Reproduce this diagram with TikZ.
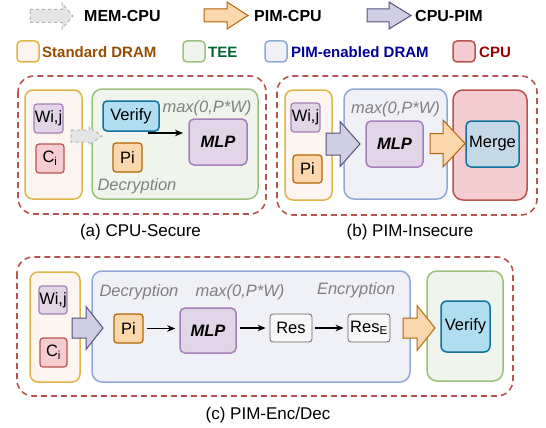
\documentclass[tikz,border=0pt]{standalone}
\usepackage{fontspec}
\setmainfont{Liberation Sans}
\usetikzlibrary{arrows.meta}

\definecolor{dramline}{HTML}{E0B446}
\definecolor{dramfill}{HTML}{FDF5EF}
\definecolor{teeline}{HTML}{9AC27C}
\definecolor{teefill}{HTML}{EFF5EC}
\definecolor{pimline}{HTML}{8EA9D3}
\definecolor{pimfill}{HTML}{EFF1F6}
\definecolor{cpuline}{HTML}{B85450}
\definecolor{cpufill}{HTML}{F5CDD0}
\definecolor{purpline}{HTML}{A680B8}
\definecolor{purpfill}{HTML}{E1D5E7}
\definecolor{orgline}{HTML}{B46504}
\definecolor{orgfill}{HTML}{FAD7AC}
\definecolor{bluline}{HTML}{10739E}
\definecolor{blufill}{HTML}{B1DDF0}
\definecolor{mrgfill}{HTML}{C4D8E6}
\definecolor{resline}{HTML}{666666}
\definecolor{resfill}{HTML}{F7F7F7}
\definecolor{cpline}{HTML}{56517E}
\definecolor{cpfill}{HTML}{D0CEE2}
\definecolor{notegray}{HTML}{808080}
\definecolor{dramtext}{HTML}{994C00}
\definecolor{teetext}{HTML}{006633}
\definecolor{pimtext}{HTML}{000099}
\definecolor{cputext}{HTML}{990000}

% block arrow: style, x start, x head, x tip, y centre, body half, head half
\newcommand{\blkarrow}[7]{%
  \draw[#1] (#2,#5-#6) -- (#3,#5-#6) -- (#3,#5-#7) -- (#4,#5)
    -- (#3,#5+#7) -- (#3,#5+#6) -- (#2,#5+#6) -- cycle;}

\begin{document}
\begin{tikzpicture}[x=1pt, y=-1pt,
  every node/.style={font=\fontsize{16.5}{19}\selectfont, inner sep=0pt},
  dram/.style={draw=dramline, fill=dramfill, rounded corners=8pt, line width=1.5pt},
  tee/.style={draw=teeline, fill=teefill, rounded corners=10pt, line width=1.5pt},
  pim/.style={draw=pimline, fill=pimfill, rounded corners=10pt, line width=1.5pt},
  cpu/.style={draw=cpuline, fill=cpufill, rounded corners=10pt, line width=1.5pt},
  wbox/.style={draw=purpline, fill=purpfill, rounded corners=3pt, line width=1.2pt},
  cbox/.style={draw=cpuline, fill=cpufill, rounded corners=3pt, line width=1.2pt},
  pbox/.style={draw=orgline, fill=orgfill, rounded corners=3pt, line width=1.2pt},
  vbox/.style={draw=bluline, fill=blufill, rounded corners=4pt, line width=1.5pt},
  rbox/.style={draw=resline, fill=resfill, rounded corners=3pt, line width=0.8pt},
  group/.style={draw=cpuline, dash pattern=on 6pt off 4pt, rounded corners=16pt, line width=1.6pt},
  note/.style={text=notegray, font=\fontsize{16.5}{19}\selectfont\itshape},
  capt/.style={font=\fontsize{17}{20}\selectfont},
  legend/.style={anchor=west, font=\fontsize{15}{18}\selectfont\bfseries},
  flow/.style={-{Stealth[length=8pt,width=6.5pt]}, line width=1.2pt},
  memarrow/.style={draw=gray!60, fill=gray!20, dashed, line width=1pt},
  pcarrow/.style={draw=orgline, fill=orgfill, line width=1pt},
  cparrow/.style={draw=cpline, fill=cpfill, line width=1pt}]
\useasboundingbox (0,0) rectangle (546,428);

% legend
\blkarrow{memarrow}{30}{62}{73}{16}{6.5}{13}
\node[legend, font=\fontsize{16}{19}\selectfont\bfseries] (L_mem) at (84,16) {MEM-CPU};
\blkarrow{pcarrow}{204}{227}{248}{15.5}{6.5}{13.5}
\node[legend, font=\fontsize{16}{19}\selectfont\bfseries] (L_pc) at (254,15.5) {PIM-CPU};
\blkarrow{cparrow}{367}{389}{411}{15.5}{6.5}{13.5}
\node[legend, font=\fontsize{16}{19}\selectfont\bfseries] (L_cp) at (415,15.5) {CPU-PIM};
\node[dram, rounded corners=4pt, minimum width=22, minimum height=21] (L_dram) at (28,51.5) {};
\node[legend, text=dramtext] (L_dram_t) at (42,52) {Standard DRAM};
\node[tee, rounded corners=4pt, minimum width=22, minimum height=21] (L_tee) at (194,51.5) {};
\node[legend, text=teetext] (L_tee_t) at (208,52) {TEE};
\node[pim, rounded corners=4pt, minimum width=22, minimum height=21] (L_pim) at (276,51.5) {};
\node[legend, text=pimtext] (L_pim_t) at (291,52) {PIM-enabled DRAM};
\node[cpu, rounded corners=4pt, minimum width=22, minimum height=21] (L_cpu) at (464,51.5) {};
\node[legend, text=cputext] (L_cpu_t) at (479,52) {CPU};

% (a) CPU-Secure
\draw[group] (18,76) rectangle (266,214);
\node[dram, minimum width=57, minimum height=109] (A_dram) at (53.5,144.5) {};
\node[wbox, minimum width=29, minimum height=29] (A_W) at (48.5,118.5) {Wi,j};
\node[cbox, minimum width=28, minimum height=29] (A_C) at (50,158.5) {C\textsubscript{i}};
\node[tee, minimum width=166, minimum height=110] (A_tee) at (175,144) {};
\blkarrow{memarrow}{71}{89}{102}{136}{6}{9}
\node[vbox, minimum width=56, minimum height=30] (A_V) at (131,116) {Verify};
\node[note] (A_max) at (207,108) {max(0,P*W)};
\node[wbox, line width=1.5pt, rounded corners=5pt, minimum width=58, minimum height=46] (A_MLP) at (218,142) {\bfseries\itshape MLP};
\node[pbox, minimum width=29, minimum height=29] (A_P) at (127.5,157.5) {Pi};
\coordinate (A_s) at (148,133);
\coordinate (A_e) at (183,133);
\draw[flow] (A_s) -- (A_e);
\node[note] (A_dec) at (137,186) {Decryption};
\node[capt] (A_cap) at (140.5,232) {(a) CPU-Secure};

% (b) PIM-Insecure
\draw[group] (277,76) rectangle (537,215);
\node[dram, minimum width=47, minimum height=110] (B_dram) at (308.5,145) {};
\node[wbox, minimum width=29, minimum height=29] (B_W) at (305.5,117.5) {Wi,j};
\node[pbox, minimum width=29, minimum height=28] (B_P) at (307.5,169) {Pi};
\node[pim, minimum width=103, minimum height=110] (B_pim) at (395.5,144) {};
\node[note] (B_max) at (395.5,109) {max(0,P*W)};
\node[wbox, line width=1.5pt, rounded corners=5pt, minimum width=57, minimum height=46] (B_MLP) at (394.5,144) {\bfseries\itshape MLP};
\node[cpu, minimum width=74, minimum height=110] (B_cpu) at (490,145) {};
\node[vbox, fill=mrgfill, rounded corners=5pt, minimum width=53, minimum height=46] (B_M) at (492.5,144) {Merge};
\blkarrow{cparrow}{326}{340}{360}{144}{11}{22.5}
\blkarrow{pcarrow}{430}{443}{465}{143.5}{10}{23.5}
\node[capt] (B_cap) at (410,232) {(b) PIM-Insecure};

% (c) PIM-Enc/Dec
\draw[group] (17,257) rectangle (513,396);
\node[dram, minimum width=50, minimum height=110] (C_dram) at (55,327) {};
\node[wbox, minimum width=28, minimum height=28] (C_W) at (53,300) {Wi,j};
\node[cbox, minimum width=27, minimum height=29] (C_C) at (53.5,352.5) {C\textsubscript{i}};
\node[pim, minimum width=318, minimum height=111] (C_pim) at (251,326.5) {};
\node[note] (C_dec) at (139,292) {Decryption};
\node[note] (C_max) at (240,292) {max(0,P*W)};
\node[note] (C_enc) at (356,290) {Encryption};
\node[pbox, minimum width=29, minimum height=29] (C_P) at (128.5,328.5) {Pi};
\node[wbox, line width=1.5pt, rounded corners=5pt, minimum width=56, minimum height=45] (C_MLP) at (208,330.5) {\bfseries\itshape MLP};
\node[rbox, minimum width=42, minimum height=28] (C_R) at (291,328) {Res};
\node[rbox, minimum width=42, minimum height=28] (C_RE) at (369,328) {Res\textsubscript{E}};
\draw[flow, shorten <=3pt, shorten >=4pt] (C_P.east) -- (C_P.east -| C_MLP.west);
\draw[flow, shorten <=3pt, shorten >=4pt] (C_MLP.east |- C_R.west) -- (C_R.west);
\draw[flow, shorten <=3pt, shorten >=4pt] (C_R.east) -- (C_RE.west);
\blkarrow{cparrow}{72}{86}{103}{328}{10}{21.5}
\node[tee, minimum width=76, minimum height=110] (C_tee) at (465,326) {};
\node[vbox, rounded corners=6pt, minimum width=49, minimum height=51] (C_V) at (465.5,326.5) {Verify};
\blkarrow{pcarrow}{403}{417}{435}{328}{10}{22.5}
\node[capt] (C_cap) at (268,415) {(c) PIM-Enc/Dec};
\end{tikzpicture}
\end{document}
